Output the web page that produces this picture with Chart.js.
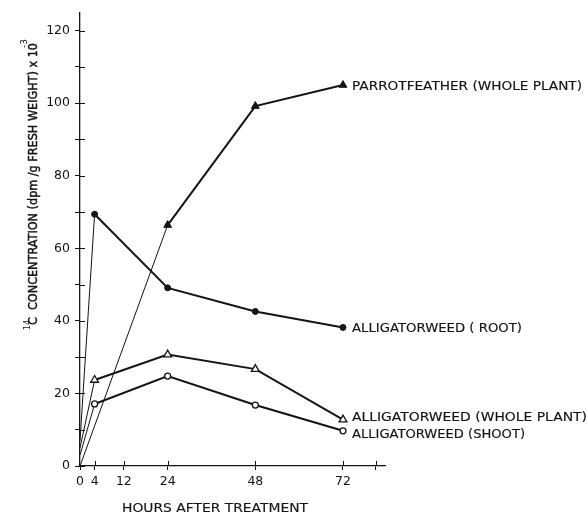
<!DOCTYPE html>
<html lang="en">
<head>
    <meta charset="UTF-8">
    <title>14C concentration after treatment</title>
    <script src="https://cdn.jsdelivr.net/npm/chart.js"></script>
    <style>
        body { margin: 0; background: #fff; }
    </style>
</head>
<body>
    <canvas id="c14Chart" width="588" height="513"></canvas>

    <script>
        // values (dpm/g fresh weight x 10^-3)
        const hours = [0, 4, 24, 48, 72];
        const parrotHours = [0, 24, 48, 72];
        const parrotWhole = [0, 66.4, 99.2, 105];
        const alligatorRoot = [7, 69.4, 49.1, 42.6, 38.2];
        const alligatorWhole = [5, 23.7, 30.7, 26.7, 12.8];
        const alligatorShoot = [3, 17.1, 24.8, 16.8, 9.7];

        const seriesNames = [
            'PARROTFEATHER (WHOLE PLANT)',
            'ALLIGATORWEED ( ROOT)',
            'ALLIGATORWEED (WHOLE PLANT)',
            'ALLIGATORWEED (SHOOT)'
        ];

        const xTicks = [0, 4, 12, 24, 48, 72, 81];
        const yTicks = [0, 10, 20, 30, 40, 50, 60, 70, 80, 90, 100, 110, 120];

        const ink = '#141414';
        const font = 'DejaVu Sans';

        // label widths / vertical nudges for the end labels
        const labelWidth = [230, 170, 235, 173];
        const labelDy = [0, 0, -3, 3];

        function pts(xs, ys) {
            return xs.map((x, i) => ({ x: x, y: ys[i] }));
        }

        // squeeze or stretch a string so it spans w pixels
        function fitText(ctx, text, x, y, w, heavy) {
            const m = ctx.measureText(text).width;
            ctx.save();
            ctx.translate(x, y);
            ctx.scale(w / m, 1);
            ctx.fillText(text, 0, 0);
            if (heavy) {
                ctx.lineWidth = heavy;
                ctx.strokeText(text, 0, 0);
            }
            ctx.restore();
        }

        const markerRadius = (r) => (c) => c.dataIndex === 0 ? 0 : r;
        const thinFirst = { borderWidth: c => c.p0DataIndex === 0 ? 1 : 2 };

        const annotate = {
            id: 'annotate',
            afterDraw(chart) {
                const ctx = chart.ctx;
                const xs = chart.scales.x, ys = chart.scales.y;
                const area = chart.chartArea;
                ctx.save();
                ctx.strokeStyle = ink;
                ctx.fillStyle = ink;
                ctx.lineWidth = 1;

                // tick marks crossing into the plot
                ctx.beginPath();
                yTicks.forEach(v => {
                    const py = Math.round(ys.getPixelForValue(v)) + 0.5;
                    ctx.moveTo(area.left, py);
                    ctx.lineTo(area.left + 5, py);
                });
                xTicks.forEach(v => {
                    if (v === 0) return;
                    const px = Math.round(xs.getPixelForValue(v)) + 0.5;
                    ctx.moveTo(px, area.bottom);
                    ctx.lineTo(px, area.bottom - 5);
                });
                ctx.stroke();

                // end labels
                ctx.font = '12px "' + font + '"';
                ctx.textBaseline = 'alphabetic';
                ctx.textAlign = 'left';
                chart.data.datasets.forEach((ds, i) => {
                    const meta = chart.getDatasetMeta(i);
                    const last = meta.data[meta.data.length - 1];
                    fitText(ctx, seriesNames[i], last.x + 9, last.y + labelDy[i] + 4.5, labelWidth[i], 0.15);
                });

                // x title
                fitText(ctx, 'HOURS AFTER TREATMENT', 122, 511.5, 186, 0.15);

                // y title, rotated
                ctx.save();
                ctx.translate(37, 327);
                ctx.rotate(-Math.PI / 2);
                ctx.font = '8px "' + font + '"';
                ctx.fillText('14', -3, -7);
                ctx.font = '13px "' + font + '"';
                fitText(ctx, 'C  CONCENTRATION (dpm /g FRESH WEIGHT) x 10', 2, 0, 282, 0.5);
                ctx.font = '9px "' + font + '"';
                ctx.fillText('-3', 279, -10);
                ctx.restore();

                ctx.restore();
            }
        };

        const ctx = document.getElementById('c14Chart').getContext('2d');
        const c14Chart = new Chart(ctx, {
            type: 'line',
            data: {
                datasets: [
                    {
                        label: seriesNames[0],
                        data: pts(parrotHours, parrotWhole),
                        borderColor: ink,
                        backgroundColor: ink,
                        pointStyle: 'triangle',
                        pointRadius: markerRadius(4.5),
                        pointBorderWidth: 1,
                        segment: thinFirst
                    },
                    {
                        label: seriesNames[1],
                        data: pts(hours, alligatorRoot),
                        borderColor: ink,
                        backgroundColor: ink,
                        pointStyle: 'circle',
                        pointRadius: markerRadius(3),
                        pointBorderWidth: 1,
                        segment: thinFirst
                    },
                    {
                        label: seriesNames[2],
                        data: pts(hours, alligatorWhole),
                        borderColor: ink,
                        backgroundColor: '#fff',
                        pointStyle: 'triangle',
                        pointRadius: markerRadius(4.5),
                        pointBorderWidth: 1.3,
                        segment: thinFirst
                    },
                    {
                        label: seriesNames[3],
                        data: pts(hours, alligatorShoot),
                        borderColor: ink,
                        backgroundColor: '#fff',
                        pointStyle: 'circle',
                        pointRadius: markerRadius(3),
                        pointBorderWidth: 1.3,
                        segment: thinFirst
                    }
                ]
            },
            options: {
                responsive: false,
                animation: false,
                borderWidth: 2,
                layout: { padding: { top: 12, right: 203, left: 0, bottom: 0 } },
                plugins: {
                    legend: { display: false },
                    tooltip: { enabled: false }
                },
                scales: {
                    x: {
                        type: 'linear',
                        min: 0,
                        max: 83.5,
                        afterBuildTicks: s => { s.ticks = xTicks.map(v => ({ value: v })); },
                        afterFit: s => { s.height = 47; },
                        grid: { drawOnChartArea: false, tickLength: 4, color: ink },
                        border: { color: ink, width: 1.3 },
                        ticks: {
                            color: ink,
                            maxRotation: 0,
                            padding: 4,
                            font: { family: font, size: 12.5 },
                            callback: v => v === 81 ? '' : v
                        }
                    },
                    y: {
                        min: 0,
                        max: 125,
                        afterBuildTicks: s => { s.ticks = yTicks.map(v => ({ value: v })); },
                        afterFit: s => { s.width = 80; },
                        grid: { drawOnChartArea: false, tickLength: 5, color: ink },
                        border: { color: ink, width: 1.3 },
                        ticks: {
                            color: ink,
                            padding: 5,
                            font: { family: font, size: 12.5 },
                            callback: v => v % 20 === 0 ? v : ''
                        }
                    }
                }
            },
            plugins: [annotate]
        });
    </script>
</body>
</html>
